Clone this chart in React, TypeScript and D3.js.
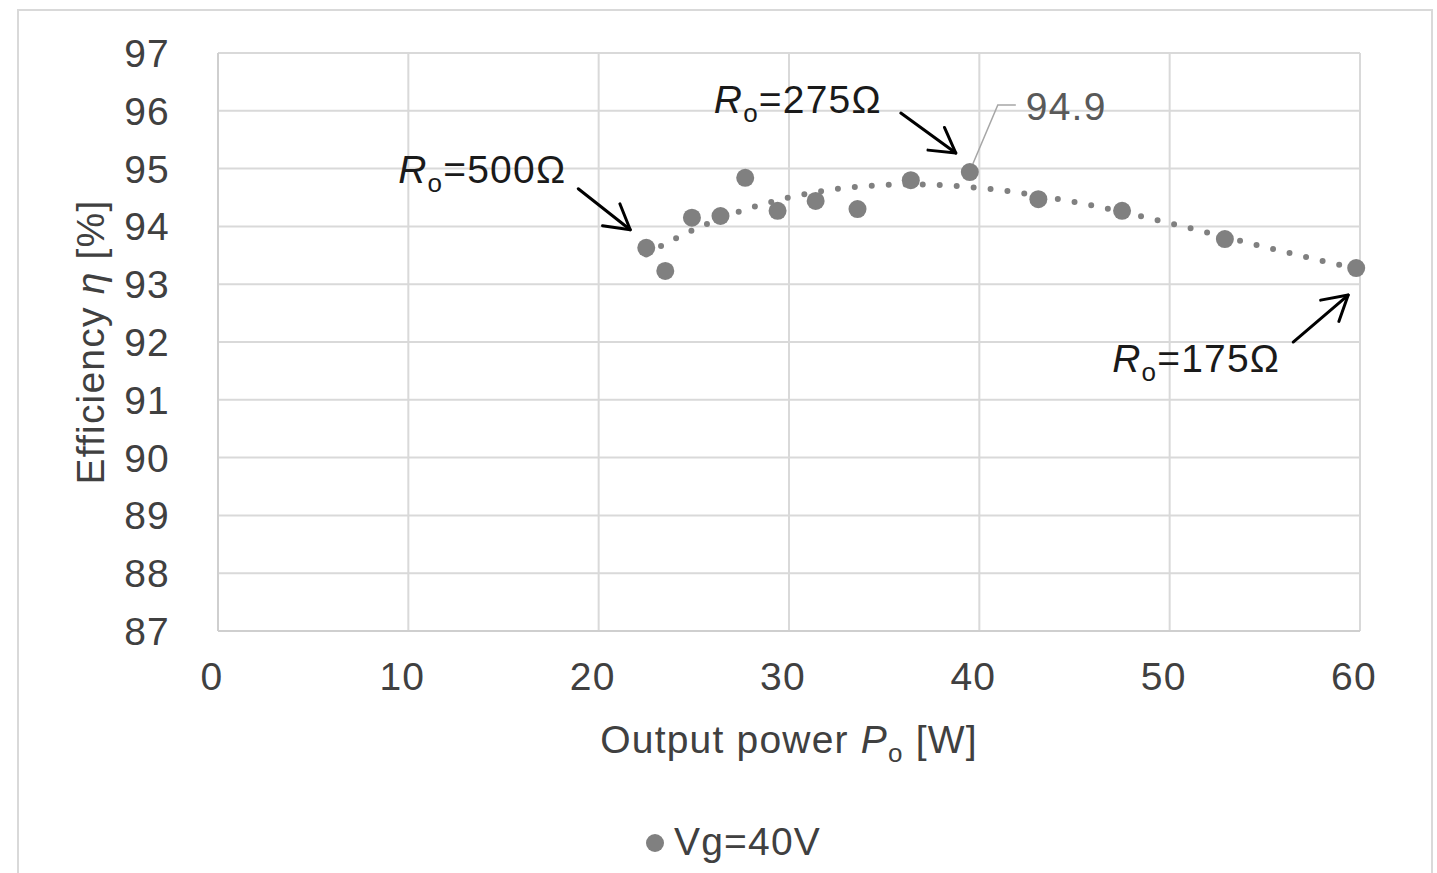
import React from 'react';
import * as d3 from 'd3';

// ---- data ----
const powerW = [22.5, 23.5, 24.9, 26.4, 27.7, 29.4, 31.4, 33.6, 36.4, 39.5, 43.1, 47.5, 52.9, 59.8];
const efficiency = [93.63, 93.23, 94.15, 94.18, 94.84, 94.27, 94.44, 94.3, 94.8, 94.94, 94.47, 94.27, 93.78, 93.28];
const xTicks = [0, 10, 20, 30, 40, 50, 60];
const yTicks = [87, 88, 89, 90, 91, 92, 93, 94, 95, 96, 97];
const seriesName = 'Vg=40V';
const peakIndex = 9;
const peakLabel = '94.9';
const annotationOhms = ['500', '275', '175'];
const annotationIndex = [0, 9, 13];

// ---- layout ----
const W = 1437, H = 873;
const M = { left: 218, right: 1360, top: 53, bottom: 631 };
const FONT = '"Liberation Sans", Arial, sans-serif';
const FS = 39;
const LS = 1.2;
const TXT = '#404040';
const GRID = '#d9d9d9';
const MARK = '#808080';

// annotation placement relative to the referenced point (pixels)
const annLayout = [
  { tip: [-16, -18], tail: [-68, -59], textEnd: [-80, -65] },
  { tip: [-14, -19], tail: [-69, -59], textEnd: [-88, -59] },
  { tip: [-8, 27], tail: [-63, 74], textEnd: [-76, 104] },
];

function polyFit(xs: number[], ys: number[], order: number) {
  const n = order + 1;
  const A: number[][] = Array.from({ length: n }, () => new Array(n + 1).fill(0));
  xs.forEach((x, k) => {
    for (let i = 0; i < n; i++) {
      for (let j = 0; j < n; j++) A[i][j] += Math.pow(x, i + j);
      A[i][n] += ys[k] * Math.pow(x, i);
    }
  });
  for (let c = 0; c < n; c++) {
    let p = c;
    for (let r = c + 1; r < n; r++) if (Math.abs(A[r][c]) > Math.abs(A[p][c])) p = r;
    [A[c], A[p]] = [A[p], A[c]];
    for (let r = 0; r < n; r++) {
      if (r === c) continue;
      const f = A[r][c] / A[c][c];
      for (let k = c; k <= n; k++) A[r][k] -= f * A[c][k];
    }
  }
  const coef = A.map((row, i) => row[n] / row[i]);
  return (x: number) => coef.reduce((s, c, i) => s + c * Math.pow(x, i), 0);
}

function Arrow({ x1, y1, x2, y2 }: { x1: number; y1: number; x2: number; y2: number }) {
  const ang = Math.atan2(y2 - y1, x2 - x1);
  const L = 28, a = (30 * Math.PI) / 180;
  const p1 = [x2 - L * Math.cos(ang - a), y2 - L * Math.sin(ang - a)];
  const p2 = [x2 - L * Math.cos(ang + a), y2 - L * Math.sin(ang + a)];
  return (
    <g stroke="#000" strokeWidth={3} fill="none" strokeLinecap="round" strokeLinejoin="round">
      <line x1={x1} y1={y1} x2={x2} y2={y2} />
      <polyline points={`${p1[0]},${p1[1]} ${x2},${y2} ${p2[0]},${p2[1]}`} />
    </g>
  );
}

export default function App() {
  const x = d3.scaleLinear().domain([0, 60]).range([M.left, M.right]);
  const y = d3.scaleLinear().domain([87, 97]).range([M.bottom, M.top]);

  const xm = d3.mean(powerW)!;
  const fit = polyFit(powerW.map((v) => v - xm), efficiency, 3);
  const xMin = d3.min(powerW)!, xMax = d3.max(powerW)!;
  const trendPts = d3.range(0, 201).map((i) => {
    const xv = xMin + ((xMax - xMin) * i) / 200;
    return [xv, fit(xv - xm)] as [number, number];
  });
  const line = d3.line<[number, number]>().x((d) => x(d[0])).y((d) => y(d[1]));

  const px = x(powerW[peakIndex]), py = y(efficiency[peakIndex]);

  return (
    <svg width={W} height={H} style={{ position: 'absolute', left: 0, top: 0, display: 'block' }} fontFamily={FONT} letterSpacing={LS}>
      <rect x={0} y={0} width={W} height={H} fill="#fff" />
      <rect x={18} y={10} width={1414} height={900} fill="#fff" stroke={GRID} strokeWidth={2} />

      {yTicks.map((t) => (
        <line key={'gy' + t} x1={M.left} x2={M.right} y1={y(t)} y2={y(t)} stroke={GRID} strokeWidth={2} />
      ))}
      {xTicks.map((t) => (
        <line key={'gx' + t} x1={x(t)} x2={x(t)} y1={M.top} y2={M.bottom} stroke={GRID} strokeWidth={2} />
      ))}
      <line x1={M.left} x2={M.left} y1={M.top} y2={M.bottom} stroke="#cfcfcf" strokeWidth={2} />
      <line x1={M.left} x2={M.right} y1={M.bottom} y2={M.bottom} stroke="#cfcfcf" strokeWidth={2} />

      {yTicks.map((t) => (
        <text key={'ty' + t} x={M.left - 48} y={y(t) + 14} textAnchor="end" fontSize={FS} fill={TXT}>
          {t}
        </text>
      ))}
      {xTicks.map((t) => (
        <text key={'tx' + t} x={x(t) - 6} y={690} textAnchor="middle" fontSize={FS} fill={TXT}>
          {t}
        </text>
      ))}

      <text x={(M.left + M.right) / 2} y={753} textAnchor="middle" fontSize={FS} fill={TXT}>
        Output power <tspan fontStyle="italic">P</tspan>
        <tspan fontSize={26} dy={9}>o</tspan>
        <tspan dy={-9}> [W]</tspan>
      </text>
      <text transform={`translate(104,${(M.top + M.bottom) / 2}) rotate(-90)`} textAnchor="middle" fontSize={FS} fill={TXT}>
        Efficiency <tspan fontStyle="italic">η</tspan> [%]
      </text>

      <path d={line(trendPts)!} fill="none" stroke={MARK} strokeWidth={6} strokeDasharray="0 17" strokeLinecap="round" />

      {powerW.map((p, i) => (
        <circle key={'pt' + i} cx={x(p)} cy={y(efficiency[i])} r={9} fill={MARK} />
      ))}

      <polyline
        points={`${px + 3},${py - 8} ${px + 28},${py - 67} ${px + 46},${py - 67}`}
        fill="none"
        stroke="#a6a6a6"
        strokeWidth={1.5}
      />
      <text x={px + 56} y={py - 52} fontSize={FS} fill="#595959">
        {peakLabel}
      </text>

      {annotationIndex.map((idx, k) => {
        const ax = x(powerW[idx]), ay = y(efficiency[idx]);
        const L = annLayout[k];
        return (
          <g key={'ann' + k}>
            <Arrow x1={ax + L.tail[0]} y1={ay + L.tail[1]} x2={ax + L.tip[0]} y2={ay + L.tip[1]} />
            <text x={ax + L.textEnd[0]} y={ay + L.textEnd[1]} textAnchor="end" fontSize={FS} fill="#1a1a1a">
              <tspan fontStyle="italic">R</tspan>
              <tspan fontSize={26} dy={9}>o</tspan>
              <tspan dy={-9}>={annotationOhms[k]}Ω</tspan>
            </text>
          </g>
        );
      })}

      <circle cx={655} cy={843} r={9} fill={MARK} />
      <text x={674} y={855} fontSize={FS} fill={TXT}>
        {seriesName}
      </text>
    </svg>
  );
}
